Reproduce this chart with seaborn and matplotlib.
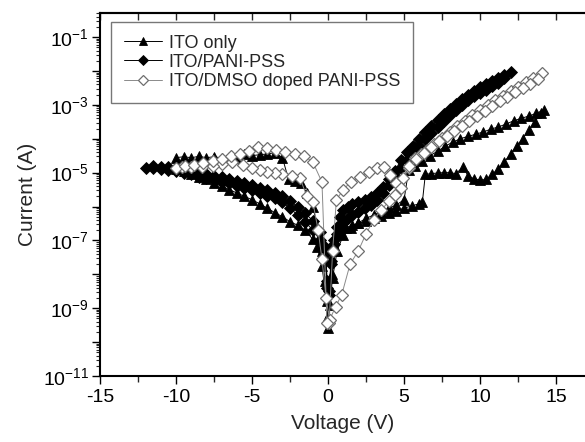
import matplotlib
matplotlib.use("Agg")
import matplotlib.pyplot as plt
import matplotlib.ticker as mticker
import numpy as np
import pandas as pd
import seaborn as sns

# ---------------- data (voltage in V, log10 of current in A), in sweep order ----------------
ito_v = [0.05, 0.25, 0.5, 0.8, 1.2, 1.6, 2.0, 2.5, 3.0, 3.5,
         4.0, 4.5, 5.0, 5.5, 6.0, 6.2, 6.4, 6.8, 7.2, 7.6,
         8.0, 8.4, 8.9, 9.2, 9.6, 10.0, 10.4, 10.8, 11.2, 11.6,
         12.0, 12.4, 12.8, 13.2, 13.6, 14.0, 14.2,
         13.7, 13.2, 12.7, 12.2, 11.7, 11.2, 10.7, 10.2, 9.7, 9.2,
         8.7, 8.2, 7.7, 7.2, 6.7, 6.2, 5.7, 5.3, 5.0, 4.5,
         4.0, 3.5, 3.0, 2.5, 2.0, 1.5, 1.0, 0.6, 0.3, 0.1, 0.0,
         -0.1, -0.4, -0.7, -1.0, -1.5, -2.0, -2.5, -3.0, -3.5, -4.0,
         -4.5, -5.0, -5.5, -6.0, -6.5, -7.0, -7.5, -8.0, -8.5, -9.0,
         -9.5, -10.0,
         -10.0, -9.5, -9.0, -8.5, -8.0, -7.5, -7.0, -6.5, -6.0, -5.5,
         -5.0, -4.5, -4.0, -3.5, -3.0, -2.6, -2.2, -1.8, -1.4, -1.0,
         -0.7, -0.4, -0.2, -0.05]
ito_logi = [-9.3, -8.0, -7.3, -6.7, -6.62, -6.55, -6.5, -6.43, -6.35, -6.28,
            -6.2, -6.12, -6.05, -5.98, -5.92, -5.88, -5.05, -5.03, -5.01, -5.0,
            -5.0, -5.03, -4.83, -5.1, -5.18, -5.22, -5.2, -5.05, -4.88, -4.68,
            -4.45, -4.22, -4.0, -3.75, -3.5, -3.25, -3.15,
            -3.25, -3.33, -3.4, -3.47, -3.57, -3.65, -3.72, -3.8, -3.87, -3.93,
            -4.0, -4.1, -4.22, -4.37, -4.5, -4.66, -4.8, -4.92, -5.8, -5.95,
            -6.05, -6.15, -6.25, -6.35, -6.48, -6.62, -6.85, -7.3, -8.1, -8.9, -9.58,
            -8.8, -7.76, -7.2, -6.97, -6.7, -6.55, -6.45, -6.3, -6.18, -6.05,
            -5.92, -5.8, -5.7, -5.6, -5.5, -5.4, -5.3, -5.2, -5.12, -5.04,
            -4.96, -4.88,
            -4.56, -4.53, -4.56, -4.52, -4.56, -4.53, -4.57, -4.55, -4.58, -4.45,
            -4.5, -4.47, -4.45, -4.41, -4.56, -5.2, -5.26, -5.3, -5.59, -6.0,
            -6.6, -7.3, -8.2, -9.3]

pani_v = [0.05, 0.2, 0.4, 0.6, 0.8, 1.0, 1.3, 1.6, 2.0, 2.4,
          2.8, 3.2, 3.6, 4.0, 4.4, 4.8, 5.2, 5.6, 6.0, 6.4,
          6.8, 7.2, 7.6, 8.0, 8.4, 8.8, 9.2, 9.6, 10.0, 10.4,
          10.8, 11.2, 11.6, 12.0,
          11.6, 11.2, 10.8, 10.4, 10.0, 9.6, 9.2, 8.8, 8.4, 8.0,
          7.6, 7.2, 6.8, 6.4, 6.0, 5.6, 5.2, 4.8, 4.4, 4.0,
          3.6, 3.2, 2.8, 2.4, 2.0, 1.6, 1.3, 1.0, 0.8, 0.6,
          0.4, 0.2, 0.05,
          -0.05, -0.2, -0.5, -1.0, -1.5, -2.0, -2.5, -3.0, -3.5, -4.0,
          -4.5, -5.0, -5.5, -6.0, -6.5, -7.0, -7.5, -8.0, -8.5, -9.0,
          -9.5, -10.0, -10.5, -11.0, -11.5, -12.0,
          -11.5, -11.0, -10.5, -10.0, -9.5, -9.0, -8.5, -8.0, -7.5, -7.0,
          -6.5, -6.0, -5.5, -5.0, -4.5, -4.0, -3.5, -3.0, -2.5, -2.0,
          -1.5, -1.0, -0.5, -0.2, -0.05]
pani_logi = [-8.5, -7.6, -7.0, -6.6, -6.3, -6.1, -6.0, -5.93, -5.87, -5.8,
             -5.72, -5.6, -5.42, -5.2, -4.95, -4.62, -4.4, -4.2, -4.0, -3.8,
             -3.62, -3.45, -3.28, -3.12, -2.97, -2.82, -2.7, -2.58, -2.48, -2.38,
             -2.29, -2.2, -2.11, -2.03,
             -2.22, -2.35, -2.45, -2.55, -2.65, -2.75, -2.87, -3.0, -3.15, -3.3,
             -3.47, -3.65, -3.82, -4.0, -4.2, -4.4, -4.62, -4.85, -5.1, -5.35,
             -5.6, -5.8, -5.95, -6.05, -6.15, -6.25, -6.35, -6.48, -6.6, -6.8,
             -7.1, -7.7, -8.6,
             -8.4, -7.4, -7.0, -6.7, -6.45, -6.25, -6.05, -5.88, -5.76, -5.68,
             -5.6, -5.52, -5.45, -5.38, -5.32, -5.27, -5.22, -5.17, -5.12, -5.05,
             -5.0, -4.96, -4.92, -4.9, -4.87, -4.85,
             -4.8, -4.82, -4.84, -4.87, -4.9, -4.94, -4.99, -5.04, -5.09, -5.14,
             -5.19, -5.25, -5.31, -5.37, -5.44, -5.52, -5.6, -5.7, -5.84, -6.0,
             -6.2, -6.42, -6.75, -7.2, -8.2]

dmso_v = [0.07, 0.3, 0.55, 1.0, 1.5, 2.1, 2.7, 3.2, 3.7, 4.1,
          4.5, 4.9, 5.3, 5.7, 6.1, 6.5, 7.0, 7.5, 8.0, 8.5,
          9.0, 9.5, 10.0, 10.5, 11.0, 11.5, 12.0, 12.5, 13.0, 13.5, 14.1,
          13.8, 13.3, 12.8, 12.3, 11.8, 11.3, 10.8, 10.3, 9.8, 9.3,
          8.8, 8.3, 7.8, 7.3, 6.8, 6.3, 5.8, 5.3, 4.8, 4.4,
          4.0, 3.5, 3.0, 2.5, 2.0, 1.45, 0.9, 0.5, 0.1,
          -0.13, -0.4, -0.66, -1.0, -1.4, -1.85, -2.4, -3.0, -3.5, -4.0,
          -4.5, -5.0, -5.6, -6.3, -7.0, -7.6, -8.3, -9.0, -9.6, -10.0,
          -9.4, -8.8, -8.2, -7.6, -7.0, -6.4, -5.8, -5.2, -4.6, -4.0,
          -3.4, -2.8, -2.2, -1.6, -1.0, -0.4, -0.07]
dmso_logi = [-9.44, -7.3, -5.8, -5.5, -5.27, -5.12, -4.98, -4.87, -4.82, -5.06,
             -5.3, -5.15, -4.85, -4.58, -4.45, -4.32, -4.15, -3.98, -3.8, -3.62,
             -3.47, -3.3, -3.15, -3.0, -2.87, -2.73, -2.6, -2.46, -2.33, -2.2, -2.05,
             -2.25, -2.38, -2.5, -2.63, -2.76, -2.9, -3.03, -3.18, -3.33, -3.48,
             -3.63, -3.78, -3.93, -4.08, -4.25, -4.42, -4.6, -4.8, -5.45, -5.65,
             -5.85, -6.1, -6.4, -6.8, -7.3, -7.7, -8.6, -8.95, -9.35,
             -8.7, -7.56, -6.68, -5.87, -5.7, -5.15, -5.1, -5.05, -5.0, -4.98,
             -4.91, -4.85, -4.78, -4.7, -4.75, -4.8, -4.82, -4.83, -4.84, -4.85,
             -4.8, -4.76, -4.72, -4.66, -4.6, -4.52, -4.45, -4.35, -4.24, -4.27,
             -4.32, -4.38, -4.44, -4.5, -4.69, -5.28, -9.44]

series_labels = ["ITO only", "ITO/PANI-PSS", "ITO/DMSO doped PANI-PSS"]
x_ticks = [-15, -10, -5, 0, 5, 10, 15]

# ---------------- style ----------------
sns.set_style("ticks")
plt.rcParams["font.family"] = ["Liberation Sans", "DejaVu Sans"]
plt.rcParams["mathtext.fontset"] = "custom"
plt.rcParams["mathtext.rm"] = "Liberation Sans"
plt.rcParams["mathtext.it"] = "Liberation Sans:italic"
plt.rcParams["mathtext.bf"] = "Liberation Sans:bold"
plt.rcParams["axes.unicode_minus"] = False

fig = plt.figure(figsize=(5.85, 4.42), dpi=100)
ax = fig.add_axes([100 / 585, 66 / 442, 485 / 585, 363 / 442])

def frame(v, logi, name):
    return pd.DataFrame({"V": v, "I": np.power(10.0, logi), "s": name})

d_ito = frame(ito_v, ito_logi, series_labels[0])
d_pani = frame(pani_v, pani_logi, series_labels[1])
d_dmso = frame(dmso_v, dmso_logi, series_labels[2])

sns.lineplot(data=d_ito, x="V", y="I", sort=False, estimator=None, ax=ax,
             color="black", linewidth=0.7, marker="^", markersize=7.5,
             markerfacecolor="black", markeredgecolor="black", markeredgewidth=0.6,
             label=series_labels[0], legend=False)
sns.lineplot(data=d_pani, x="V", y="I", sort=False, estimator=None, ax=ax,
             color="black", linewidth=0.7, marker="D", markersize=6.0,
             markerfacecolor="black", markeredgecolor="black", markeredgewidth=0.6,
             label=series_labels[1], legend=False)
sns.lineplot(data=d_dmso, x="V", y="I", sort=False, estimator=None, ax=ax,
             color="#8a8a8a", linewidth=0.7, marker="D", markersize=5.8,
             markerfacecolor="white", markeredgecolor="#6e6e6e", markeredgewidth=0.9,
             label=series_labels[2], legend=False)

ax.set_yscale("log")
ax.set_xlim(-15, 16.9)
ax.set_ylim(1e-11, 10 ** -0.29)

ax.set_xticks(x_ticks)
ax.xaxis.set_minor_locator(mticker.MultipleLocator(2.5))
ax.yaxis.set_major_locator(mticker.LogLocator(base=10, numticks=20))
ax.yaxis.set_minor_locator(mticker.LogLocator(base=10, subs=np.arange(2, 10), numticks=20))

def yfmt(val, pos):
    e = int(round(np.log10(val)))
    if e % 2 == 0:
        return ""
    return r"$\mathregular{10^{%d}}$" % e

ax.yaxis.set_major_formatter(mticker.FuncFormatter(yfmt))
ax.yaxis.set_minor_formatter(mticker.NullFormatter())

ax.tick_params(axis="x", which="major", direction="out", length=6, width=1, labelsize=14,
               top=False, pad=3, colors="black")
ax.tick_params(axis="x", which="minor", direction="out", length=4, width=1, top=False)
ax.tick_params(axis="y", which="major", direction="out", length=6, width=1, labelsize=14,
               right=False, pad=2, colors="black")
ax.tick_params(axis="y", which="minor", direction="out", length=3, width=0.8, right=False)

sec = ax.secondary_xaxis("top")
sec.set_xticks(x_ticks)
sec.xaxis.set_minor_locator(mticker.MultipleLocator(2.5))
sec.tick_params(axis="x", which="both", direction="in", labeltop=False, length=5, width=1)
sec.spines["top"].set_linewidth(1.5)

for side in ["left", "bottom", "top"]:
    ax.spines[side].set_visible(True)
    ax.spines[side].set_color("black")
    ax.spines[side].set_linewidth(1.5)
ax.spines["right"].set_visible(False)

ax.set_xlabel("Voltage (V)", fontsize=15, labelpad=6)
ax.set_ylabel("Current (A)", fontsize=15, labelpad=4)

handles = ax.get_lines()[:3]
leg = ax.legend(handles=handles, labels=series_labels, loc="upper left",
                bbox_to_anchor=(11 / 485, 1 - 9 / 363), borderaxespad=0,
                fontsize=13, frameon=True, fancybox=False, edgecolor="#555555",
                handlelength=2.1, handletextpad=0.4, labelspacing=0.12,
                borderpad=0.7, numpoints=1, markerscale=0.85)
leg.get_frame().set_linewidth(1.0)

fig.savefig("out.png", dpi=100)
